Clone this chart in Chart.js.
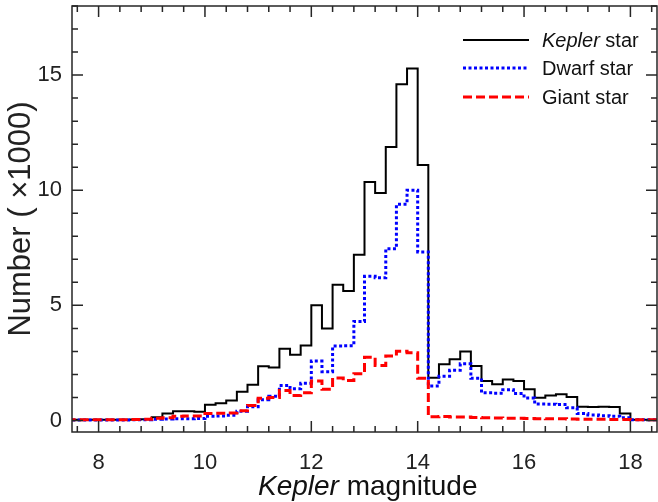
<!DOCTYPE html>
<html>
<head>
<meta charset="utf-8">
<script src="https://cdn.jsdelivr.net/npm/chart.js@4.4.1/dist/chart.umd.min.js"></script>
<style>
    html, body { margin: 0; padding: 0; background: #fff; }
    .wrap { position: relative; width: 658px; height: 502px; font-family: "Liberation Sans", Arial, Helvetica, sans-serif; color: #111; }
    canvas { position: absolute; left: 0; top: 0; }
    .xtitle { position: absolute; left: 258px; top: 472px; font-size: 28px; line-height: 28px; white-space: nowrap; }
    .leg-row { position: absolute; left: 463px; height: 20px; }
    .leg-row svg { position: absolute; left: 0; top: 7px; }
    .leg-row span { position: absolute; left: 79px; top: 0; font-size: 20px; line-height: 20px; white-space: nowrap; }
</style>
</head>
<body>
<div class="wrap">
    <canvas id="hist" width="658" height="502"></canvas>
    <div class="xtitle"><i>Kepler</i> magnitude</div>
    <div class="leg-row" style="top:30px">
        <svg width="66" height="6"><line x1="0" y1="3" x2="66" y2="3" stroke="#000" stroke-width="2"/></svg>
        <span><i>Kepler</i> star</span>
    </div>
    <div class="leg-row" style="top:58px">
        <svg width="66" height="6"><line x1="0" y1="3" x2="66" y2="3" stroke="#0000ff" stroke-width="3" stroke-dasharray="3 2.5"/></svg>
        <span>Dwarf star</span>
    </div>
    <div class="leg-row" style="top:87px">
        <svg width="66" height="6"><line x1="0" y1="3" x2="66" y2="3" stroke="#ff0000" stroke-width="3" stroke-dasharray="9 4"/></svg>
        <span>Giant star</span>
    </div>
</div>
<script>
// Bordas esquerdas dos bins (largura 0.2 mag)
const magBinStart = [
    7.4, 7.6, 7.8, 8.0, 8.2, 8.4, 8.6, 8.8, 9.0, 9.2,
    9.4, 9.6, 9.8, 10.0, 10.2, 10.4, 10.6, 10.8, 11.0, 11.2,
    11.4, 11.6, 11.8, 12.0, 12.2, 12.4, 12.6, 12.8, 13.0, 13.2,
    13.4, 13.6, 13.8, 14.0, 14.2, 14.4, 14.6, 14.8, 15.0, 15.2,
    15.4, 15.6, 15.8, 16.0, 16.2, 16.4, 16.6, 16.8, 17.0, 17.2,
    17.4, 17.6, 17.8, 18.0, 18.2, 18.4
];
const binWidth = 0.2;

// Contagens (x1000)
const keplerCounts = [
    0.03, 0.03, 0.03, 0.03, 0.03, 0.03, 0.04, 0.05, 0.14, 0.30,
    0.40, 0.40, 0.38, 0.68, 0.75, 0.87, 1.25, 1.55, 2.36, 2.30,
    3.12, 2.86, 3.26, 5.00, 4.00, 5.90, 5.62, 7.20, 10.36, 9.88,
    11.88, 14.60, 15.29, 11.09, 1.86, 2.44, 2.66, 3.00, 2.37, 1.72,
    1.57, 1.78, 1.71, 1.36, 0.99, 1.09, 1.14, 1.02, 0.60, 0.59,
    0.60, 0.59, 0.30, 0.03, 0.03, 0.03
];
const dwarfCounts = [
    0.02, 0.02, 0.02, 0.02, 0.02, 0.02, 0.03, 0.03, 0.05, 0.06,
    0.08, 0.08, 0.09, 0.18, 0.20, 0.23, 0.40, 0.60, 0.90, 1.05,
    1.52, 1.38, 1.62, 2.58, 2.12, 3.23, 3.25, 4.30, 6.26, 6.20,
    7.46, 9.39, 10.00, 7.32, 1.50, 1.92, 2.18, 2.46, 1.83, 1.20,
    1.18, 1.34, 1.17, 0.98, 0.72, 0.71, 0.69, 0.55, 0.30, 0.24,
    0.21, 0.18, 0.12, 0.03, 0.03, 0.03
];
const giantCounts = [
    0.03, 0.03, 0.03, 0.03, 0.03, 0.03, 0.04, 0.05, 0.10, 0.12,
    0.18, 0.20, 0.20, 0.30, 0.31, 0.33, 0.42, 0.65, 0.97, 1.00,
    1.30, 1.09, 1.20, 1.72, 1.36, 1.85, 1.74, 2.03, 2.75, 2.39,
    2.80, 3.01, 2.94, 1.83, 0.16, 0.17, 0.15, 0.15, 0.13, 0.12,
    0.11, 0.10, 0.10, 0.09, 0.08, 0.07, 0.07, 0.06, 0.05, 0.05,
    0.05, 0.04, 0.04, 0.03, 0.03, 0.03
];

const xTickLabels = [8, 10, 12, 14, 16, 18];
const yTickLabels = [0, 5, 10, 15];

const tickFont = { family: "'Liberation Sans', Arial, Helvetica, sans-serif", size: 22 };

// Transforma bins + contagens em pontos de degrau
function stepPoints(counts) {
    const pts = magBinStart.map((x, i) => ({ x: x, y: counts[i] }));
    const last = magBinStart.length - 1;
    pts.push({ x: magBinStart[last] + binWidth, y: counts[last] });
    return pts;
}

// Moldura com marcas para dentro nos quatro lados
const frameTicks = {
    id: 'frameTicks',
    afterDatasetsDraw(chart) {
        const { ctx, chartArea: a, scales } = chart;
        const xs = scales.x, ys = scales.y;
        ctx.save();
        ctx.strokeStyle = '#262626';
        ctx.lineWidth = 1.5;
        ctx.strokeRect(a.left, a.top, a.right - a.left, a.bottom - a.top);

        ctx.beginPath();
        // x: menores a cada 0.4, maiores nos rótulos
        for (let i = 0; i <= 27; i++) {
            const v = 7.6 + i * 0.4;
            if (v > xs.max) break;
            const px = xs.getPixelForValue(v);
            const major = xTickLabels.some(t => Math.abs(t - v) < 1e-6);
            const len = major ? 11 : 6;
            ctx.moveTo(px, a.bottom); ctx.lineTo(px, a.bottom - len);
            ctx.moveTo(px, a.top); ctx.lineTo(px, a.top + len);
        }
        // y: menores a cada 1, maiores a cada 5
        for (let v = 0; v <= 18; v++) {
            const py = ys.getPixelForValue(v);
            const len = (v % 5 === 0) ? 11 : 6;
            ctx.moveTo(a.left, py); ctx.lineTo(a.left + len, py);
            ctx.moveTo(a.right, py); ctx.lineTo(a.right - len, py);
        }
        ctx.stroke();
        ctx.restore();
    }
};

// Zera o padding extra que os rótulos das pontas pedem
function fixBox(size, prop) {
    return function(scale) {
        scale[prop] = size;
        scale.paddingTop = 0;
        scale.paddingBottom = 0;
        scale.paddingLeft = 0;
        scale.paddingRight = 0;
    };
}

document.addEventListener("DOMContentLoaded", function() {
    const ctx = document.getElementById('hist');

    new Chart(ctx, {
        type: 'line',
        data: {
            datasets: [
                {
                    label: 'Kepler star',
                    data: stepPoints(keplerCounts),
                    borderColor: '#000000',
                    borderWidth: 2,
                    stepped: 'before',
                    pointRadius: 0,
                    fill: false,
                    order: 3
                },
                {
                    label: 'Dwarf star',
                    data: stepPoints(dwarfCounts),
                    borderColor: '#0000ff',
                    borderWidth: 3,
                    borderDash: [3, 2.5],
                    stepped: 'before',
                    pointRadius: 0,
                    fill: false,
                    order: 2
                },
                {
                    label: 'Giant star',
                    data: stepPoints(giantCounts),
                    borderColor: '#ff0000',
                    borderWidth: 3,
                    borderDash: [9, 4],
                    stepped: 'before',
                    pointRadius: 0,
                    fill: false,
                    order: 1
                }
            ]
        },
        options: {
            responsive: false,
            animation: false,
            devicePixelRatio: 1,
            layout: { padding: { top: 6, right: 1, left: 0, bottom: 0 } },
            plugins: {
                legend: { display: false },
                tooltip: { enabled: false }
            },
            scales: {
                x: {
                    type: 'linear',
                    min: 7.5,
                    max: 18.5,
                    grid: { display: false, drawTicks: false },
                    border: { display: false },
                    afterBuildTicks: function(axis) {
                        axis.ticks = xTickLabels.map(v => ({ value: v }));
                    },
                    afterFit: fixBox(70, 'height'),
                    ticks: {
                        font: tickFont,
                        color: '#222',
                        padding: 18,
                        maxRotation: 0,
                        autoSkip: false
                    }
                },
                y: {
                    type: 'linear',
                    min: -0.5,
                    max: 18,
                    grid: { display: false, drawTicks: false },
                    border: { display: false },
                    afterBuildTicks: function(axis) {
                        axis.ticks = yTickLabels.map(v => ({ value: v }));
                    },
                    afterFit: fixBox(72, 'width'),
                    ticks: {
                        font: tickFont,
                        color: '#222',
                        padding: 10,
                        autoSkip: false
                    },
                    title: {
                        display: true,
                        text: 'Number ( \u00d71000)',
                        color: '#222',
                        font: { family: "'Liberation Sans', Arial, Helvetica, sans-serif", size: 31 },
                        padding: { top: 3, bottom: 0 }
                    }
                }
            }
        },
        plugins: [frameTicks]
    });
});
</script>
</body>
</html>
